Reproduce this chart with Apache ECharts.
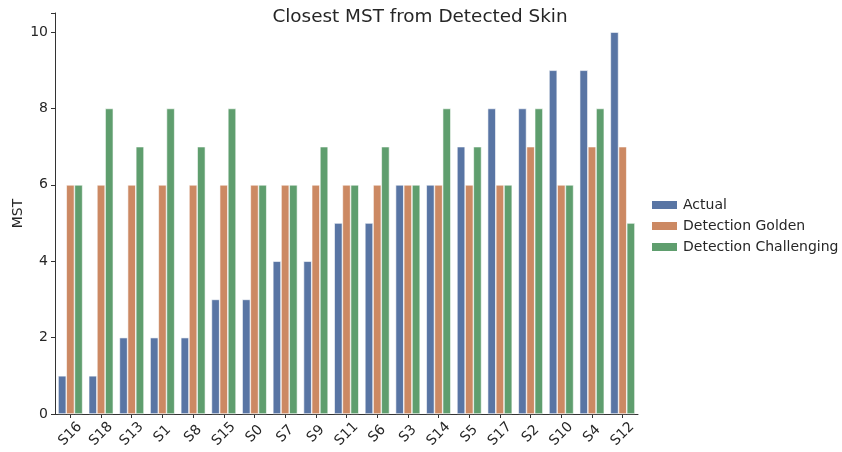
<!DOCTYPE html>
<html>
<head>
<meta charset="utf-8">
<script src="https://cdn.jsdelivr.net/npm/echarts@6/dist/echarts.min.js"></script>
<style>
  html, body { margin: 0; padding: 0; background: #fff; }
  #main { width: 842px; height: 452px; }
</style>
</head>
<body>
<div id="main"></div>
<script>
const subjects = ['S16', 'S18', 'S13', 'S1', 'S8', 'S15', 'S0', 'S7', 'S9', 'S11', 'S6', 'S3', 'S14', 'S5', 'S17', 'S2', 'S10', 'S4', 'S12']
const actual = [1, 1, 2, 2, 2, 3, 3, 4, 4, 5, 5, 6, 6, 7, 8, 8, 9, 9, 10]
const golden = [6, 6, 6, 6, 6, 6, 6, 6, 6, 6, 6, 6, 6, 6, 6, 7, 6, 7, 7]
const challenging = [6, 8, 7, 8, 7, 8, 6, 6, 7, 6, 7, 6, 8, 7, 6, 8, 6, 8, 5]
const yTicks = [0, 2, 4, 6, 8, 10]

const font = 'DejaVu Sans'
const textColor = '#262626'

const chart = echarts.init(document.getElementById('main'))

const barSeries = (name, data, color) => ({
  type: 'bar',
  name: name,
  data: data,
  barWidth: 8.2,
  barGap: '0%',
  itemStyle: {
    color: color,
    borderColor: '#fff',
    borderWidth: 0.6
  },
  animation: false
})

chart.setOption({
  backgroundColor: '#fff',
  textStyle: {fontFamily: font},
  title: {
    text: 'Closest MST from Detected Skin',
    left: 415,
    textAlign: 'center',
    top: 3,
    textStyle: {fontFamily: font, fontSize: 18.4, fontWeight: 'normal', color: textColor}
  },
  legend: {
    orient: 'vertical',
    left: 645,
    top: 193,
    itemWidth: 27,
    itemHeight: 10,
    itemGap: 7,
    icon: 'rect',
    textStyle: {fontFamily: font, fontSize: 14, color: textColor},
    data: ['Actual', 'Detection Golden', 'Detection Challenging']
  },
  grid: {left: 55, right: 204, top: 13, bottom: 38, containLabel: false},
  xAxis: {
    type: 'category',
    data: subjects,
    axisLine: {lineStyle: {color: '#333', width: 1}},
    axisTick: {show: true, alignWithLabel: true, length: 4, lineStyle: {color: '#333'}},
    axisLabel: {
      rotate: 45,
      align: 'center',
      verticalAlign: 'middle',
      margin: 20,
      fontFamily: font,
      fontSize: 14,
      color: textColor
    },
    splitLine: {show: false}
  },
  yAxis: {
    type: 'value',
    min: 0,
    max: 10.5,
    interval: 2,
    name: 'MST',
    nameLocation: 'middle',
    nameGap: 30,
    nameMoveOverlap: false,
    nameTextStyle: {fontFamily: font, fontSize: 14, color: textColor},
    axisLine: {show: true, lineStyle: {color: '#333', width: 1}},
    axisTick: {show: true, length: 4, lineStyle: {color: '#333'}},
    axisLabel: {
      fontFamily: font,
      fontSize: 14,
      color: textColor,
      margin: 7,
      formatter: v => (yTicks.includes(v) ? String(v) : '')
    },
    splitLine: {show: false}
  },
  series: [
    barSeries('Actual', actual, '#5975a4'),
    barSeries('Detection Golden', golden, '#cc8963'),
    barSeries('Detection Challenging', challenging, '#5f9e6e')
  ]
})
</script>
</body>
</html>
